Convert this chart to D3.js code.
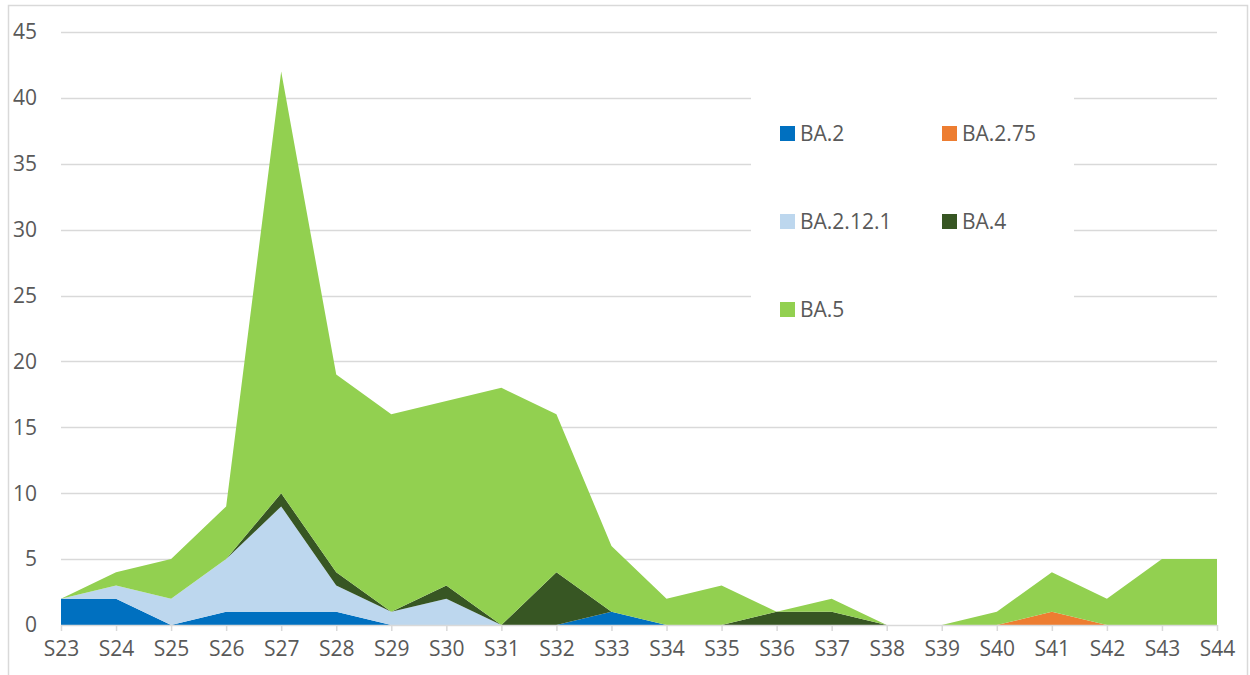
<!DOCTYPE html>
<html><head><meta charset="utf-8">
<script src="https://cdn.jsdelivr.net/npm/d3@7"></script>
<style>body{margin:0;background:#fff}svg{display:block}text{font-family:"Open Sans","Noto Sans",sans-serif;fill:#595959}</style>
</head><body><svg id="c" width="1250" height="675"></svg>
<script>
const categories = ["S23","S24","S25","S26","S27","S28","S29","S30","S31","S32","S33","S34","S35","S36","S37","S38","S39","S40","S41","S42","S43","S44"];
const seriesNames = ["BA.2","BA.2.75","BA.2.12.1","BA.4","BA.5"];
const ba2      = [2,2,0,1,1,1,0,0,0,0,1,0,0,0,0,0,0,0,0,0,0,0];
const ba275    = [0,0,0,0,0,0,0,0,0,0,0,0,0,0,0,0,0,0,1,0,0,0];
const ba2121   = [0,1,2,4,8,2,1,2,0,0,0,0,0,0,0,0,0,0,0,0,0,0];
const ba4      = [0,0,0,0,1,1,0,1,0,4,0,0,0,1,1,0,0,0,0,0,0,0];
const ba5      = [0,1,3,4,32,15,15,14,18,12,5,2,3,0,1,0,0,1,3,2,5,5];
const yTicks   = [0,5,10,15,20,25,30,35,40,45];
const colors   = ["#0070C0","#ED7D31","#BDD7EE","#375623","#92D050"];

const m={left:61,right:1217,top:32,bottom:625};
const FS=21;
const svg=d3.select("#c");
svg.append("rect").attr("x",8.5).attr("y",5.5).attr("width",1239).attr("height",680).attr("fill","#fff").attr("stroke","#d9d9d9").attr("stroke-width",1.5);

const x=d3.scalePoint().domain(categories).range([m.left,m.right]);
const y=d3.scaleLinear().domain([0,45]).range([m.bottom,m.top]);

const table=categories.map((c,i)=>({cat:c,"BA.2":ba2[i],"BA.2.75":ba275[i],"BA.2.12.1":ba2121[i],"BA.4":ba4[i],"BA.5":ba5[i]}));
const stack=d3.stack().keys(seriesNames)(table);

svg.append("g").selectAll("line").data(yTicks.filter(t=>t>0)).join("line")
  .attr("x1",m.left).attr("x2",m.right).attr("y1",d=>Math.round(y(d))+0.5).attr("y2",d=>Math.round(y(d))+0.5)
  .attr("stroke","#d9d9d9").attr("stroke-width",1.5);

const area=d3.area().x(d=>x(d.data.cat)).y0(d=>y(d[0])).y1(d=>y(d[1]));
svg.append("g").selectAll("path").data(stack).join("path")
  .attr("d",area).attr("fill",(d,i)=>colors[i]);

svg.append("g").selectAll("text").data(yTicks).join("text")
  .attr("x",37).attr("y",d=>y(d)).attr("dy","0.35em").attr("text-anchor","end")
  .attr("font-size",FS).text(d=>d);

const xa=svg.append("g").attr("transform",`translate(0,${m.bottom})`)
  .call(d3.axisBottom(x).tickSize(6).tickSizeOuter(0).tickPadding(10));
xa.select(".domain").attr("stroke","#d9d9d9").attr("stroke-width",1.5).attr("d",`M${m.left},0.5H${m.right}`);
xa.selectAll(".tick line").attr("stroke","#d9d9d9").attr("stroke-width",1.5);
xa.selectAll(".tick text").attr("font-size",FS).attr("fill","#595959").attr("font-family",'"Open Sans","Noto Sans",sans-serif');

const lg=svg.append("g");
lg.append("rect").attr("x",751).attr("y",90).attr("width",323).attr("height",245).attr("fill","#fff");
const pos=[[780,133],[942,133],[780,221],[942,221],[780,309]];
seriesNames.forEach((n,i)=>{
  const [lx,ly]=pos[i];
  lg.append("rect").attr("x",lx).attr("y",ly-7).attr("width",15).attr("height",15).attr("fill",colors[i]);
  lg.append("text").attr("x",lx+20).attr("y",ly+1).attr("dy","0.35em").attr("font-size",FS).text(n);
});
</script></body></html>
